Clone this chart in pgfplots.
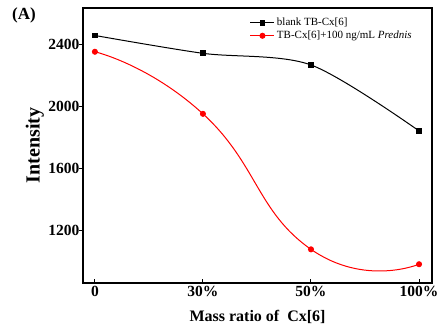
\documentclass[border=0pt]{standalone}
\usepackage{pgfplots}
\pgfplotsset{compat=1.18}
\usepackage{fontspec}
\setmainfont{Liberation Serif}
\begin{document}
\begin{tikzpicture}[x=1pt,y=1pt]
\path[use as bounding box] (0,0) rectangle (444,335);
\node[font=\bfseries\fontsize{17}{19}\selectfont, anchor=center] at (24,320) {(A)};
\begin{axis}[
  at={(83pt,52pt)}, anchor=south west,
  scale only axis, width=349pt, height=275pt,
  xmin=-0.11, xmax=3.12, ymin=860, ymax=2632,
  xtick={0,1,2,3}, xticklabels={0,30\%,50\%,100\%},
  ytick={1200,1600,2000,2400},
  xtick pos=left, ytick pos=left,
  tick align=inside,
  ytick style={xshift=-4pt},
  major tick length=4pt,
  tick style={line width=1pt, black},
  axis line style={line width=1.6pt},
  /pgf/number format/assume math mode=true,
  /pgf/number format/set thousands separator={},
  tick label style={font=\bfseries\fontsize{15.5}{17}\selectfont},
  xlabel={Mass ratio of\ \ Cx[6]},
  ylabel={Intensity},
  xlabel style={font=\bfseries\fontsize{16}{18}\selectfont, at={(axis description cs:0.5,-0.124)}, anchor=center},
  ylabel style={font=\bfseries\fontsize{20}{22}\selectfont, at={(axis description cs:-0.138,0.5)}, anchor=center},
  legend style={at={(axis description cs:0.475,0.975)}, anchor=north west, draw=none, fill=none, font=\fontsize{11}{12}\selectfont, row sep=0pt, inner sep=1pt},
  legend cell align=left,
  legend image code/.code={\draw[#1] (0pt,0pt) -- (24pt,0pt); \draw[#1,only marks] plot coordinates {(12pt,0pt)};},
]
\addplot[black, line width=1pt, smooth, mark=square*, mark size=2.4pt] coordinates {
 (0,2455) (1,2340) (2,2265) (3,1840)};
\addlegendentry{blank TB-Cx[6]}
\addplot[red, line width=1pt, smooth, tension=0.9, mark=*, mark size=2.5pt] coordinates {
 (0,2350) (1,1950) (2,1077) (3,981)};
\addlegendentry{TB-Cx[6]+100 ng/mL \textit{Prednis}}
\end{axis}
\end{tikzpicture}
\end{document}
